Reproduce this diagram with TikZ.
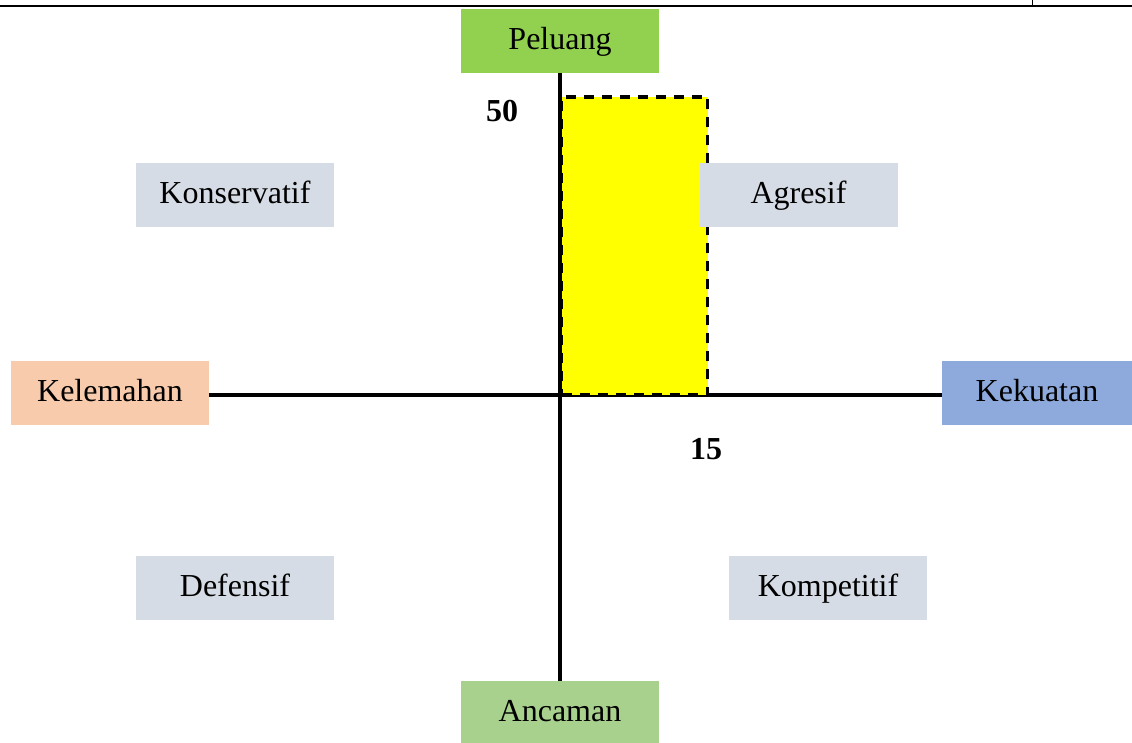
\documentclass[tikz,border=0pt]{standalone}
\usepackage{fontspec}
\setmainfont{Liberation Serif}
\usetikzlibrary{backgrounds}
\definecolor{cPel}{HTML}{92D050}
\definecolor{cKel}{HTML}{F8CBAD}
\definecolor{cKek}{HTML}{8EA9DB}
\definecolor{cAnc}{HTML}{A9D18E}
\definecolor{cGray}{HTML}{D6DCE5}
\definecolor{cYel}{HTML}{FFFF00}
\begin{document}
\begin{tikzpicture}[x=1pt,y=-1pt,
  box/.style={inner sep=0pt,minimum width=198pt,minimum height=64pt,
    text height=22pt,text depth=6pt,
    font=\fontsize{32}{38}\selectfont,anchor=center},
  numlbl/.style={inner sep=0pt,font=\fontsize{32}{38}\selectfont\bfseries},
  axis/.style={line width=4.5pt,black},
  zonebox/.style={fill=cYel,draw=black,line width=3.5pt,dash pattern=on 10pt off 8pt,
    inner sep=0pt,minimum width=146pt,minimum height=298pt}]
\useasboundingbox (0,0) rectangle (1132,742);
% header rule
\draw[line width=2pt] (0,5.7) -- (1132,5.7);
\draw[line width=1.2pt] (1032.7,0) -- (1032.7,5.7);
% boxes
\node[box,fill=cPel] (pel) at (560,41) {Peluang};
\node[box,fill=cKel] (kel) at (110,393) {Kelemahan};
\node[box,fill=cKek,minimum width=190pt] (kek) at (1037,393) {Kekuatan};
\node[box,fill=cAnc] (anc) at (560,713) {Ancaman};
\node[box,fill=cGray] (kon) at (235,195) {Konservatif};
\node[box,fill=cGray] (agr) at (798.5,195) {Agresif};
\node[box,fill=cGray] (def) at (235,588) {Defensif};
\node[box,fill=cGray] (kom) at (828,588) {Kompetitif};
\node[numlbl] (n50) at (502,111) {50};
\node[numlbl] (n15) at (706,449) {15};
\begin{pgfonlayer}{background}
  \draw[axis] (kel.east |- 0,395) -- (kek.west |- 0,395);
  \draw[axis] (pel.south) -- (anc.north);
  \node[zonebox] (zone) at (634.5,246) {};
\end{pgfonlayer}
\end{tikzpicture}
\end{document}
